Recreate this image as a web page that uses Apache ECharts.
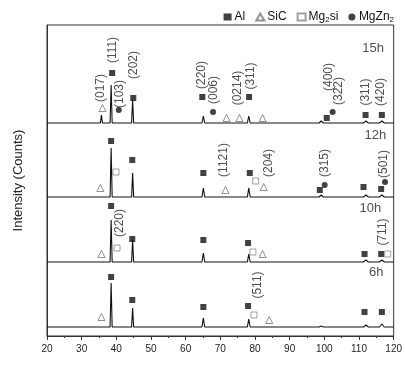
<!DOCTYPE html>
<html>
<head>
<meta charset="utf-8">
<script src="https://cdn.jsdelivr.net/npm/echarts@6/dist/echarts.min.js"></script>
<style>
html, body { margin: 0; padding: 0; background: #fff; }
#xrd { width: 405px; height: 365px; }
</style>
</head>
<body>
<div id="xrd"></div>
<script>
// spectra, stacked from the top: 15h, 12h, 10h, 6h
var hours = ['15h', '12h', '10h', '6h'];
var baseline = [213, 139, 74, 9];
var hourLabelPos = [[114.1, 288], [114.7, 201], [113.3, 128], [115.0, 64]];

// peaks: [2theta, height above baseline, half width]
var peaks15h = [[35.7, 8, 0.3], [38.5, 38, 0.3], [44.7, 23, 0.3], [65.1, 7, 0.4], [71.8, 1, 0.4], [78.2, 7, 0.4], [82.4, 2, 0.5], [99.1, 2, 0.6], [112.0, 2, 0.7], [116.6, 2, 0.7]];
var peaks12h = [[35.7, 2, 0.3], [38.5, 49, 0.3], [44.7, 24, 0.3], [65.1, 9, 0.4], [78.2, 9, 0.4], [82.4, 2, 0.5], [99.1, 2, 0.6], [112.0, 2, 0.7], [116.6, 2, 0.7]];
var peaks10h = [[35.7, 2, 0.3], [38.5, 42, 0.3], [44.7, 22, 0.3], [65.1, 9, 0.4], [78.2, 8, 0.4], [82.4, 2, 0.5], [112.0, 2, 0.7], [116.6, 2, 0.7]];
var peaks6h = [[35.7, 2, 0.3], [38.5, 44, 0.3], [44.7, 19, 0.3], [65.1, 9, 0.4], [78.2, 8, 0.4], [82.4, 2, 0.5], [99.1, 1, 0.6], [112.0, 2, 0.7], [116.6, 3, 0.7]];
var allPeaks = [peaks15h, peaks12h, peaks10h, peaks6h];

// phase markers [2theta, level]
var alMarks = [[38.8, 263], [44.9, 238], [64.8, 239], [78.3, 239], [100.7, 218], [111.9, 221], [116.6, 221],
  [38.5, 195], [44.6, 176], [65.1, 163], [78.5, 163], [98.7, 146], [111.3, 149], [116.4, 147],
  [38.5, 130], [44.6, 97], [65.1, 96], [78.0, 93], [111.6, 82], [116.4, 82],
  [38.5, 59], [44.6, 36], [65.1, 29], [78.0, 30], [111.6, 24], [116.6, 24]];
var sicMarks = [[36.0, 228], [71.8, 218], [75.5, 218], [82.2, 218],
  [35.4, 148], [71.5, 146], [82.5, 149],
  [35.7, 82], [82.2, 82],
  [35.7, 19], [84.1, 16]];
var mg2siMarks = [[39.9, 164], [80.2, 155], [40.2, 88], [79.4, 84], [118.3, 82], [79.7, 21]];
var mgzn2Marks = [[40.7, 226], [67.9, 224], [102.4, 224], [100.1, 151], [117.5, 154]];

// Miller indices [2theta, level, text]
var hklLabels = [[35.4, 248, '(017)'], [39.0, 286, '(111)'], [41.0, 242, '(103)'], [44.9, 271, '(202)'],
  [64.5, 261, '(220)'], [68.2, 246, '(006)'], [74.9, 248, '(0214)'], [78.8, 260, '(311)'],
  [101.2, 259, '(400)'], [104.0, 245, '(322)'], [111.9, 244, '(311)'], [116.4, 244, '(420)'],
  [71.0, 176, '(1121)'], [83.9, 173, '(204)'], [100.1, 173, '(315)'], [117.2, 172, '(501)'],
  [41.0, 113, '(220)'], [116.9, 104, '(711)'],
  [80.8, 51, '(511)']];

function profile(peaks, base) {
  var pts = [[20, base]];
  peaks.forEach(function (p) {
    pts.push([p[0] - p[2], base], [p[0], base + p[1]], [p[0] + p[2], base]);
  });
  pts.push([120, base]);
  return pts;
}

var chart = echarts.init(document.getElementById('xrd'));
var series = [];
hours.forEach(function (h, i) {
  series.push({
    name: h, type: 'line', data: profile(allPeaks[i], baseline[i]),
    showSymbol: false, silent: true,
    lineStyle: { color: '#111', width: 1.1 }
  });
});
series.push({
  name: 'Al', type: 'scatter', data: alMarks, symbol: 'rect', symbolSize: 6,
  itemStyle: { color: '#111' }
});
series.push({
  name: 'SiC', type: 'scatter', data: sicMarks, symbol: 'triangle', symbolSize: 7,
  itemStyle: { color: '#fff', borderColor: '#777', borderWidth: 1 }
});
series.push({
  name: 'Mg2si', type: 'scatter', data: mg2siMarks, symbol: 'rect', symbolSize: 6,
  itemStyle: { color: '#fff', borderColor: '#888', borderWidth: 1 }
});
series.push({
  name: 'MgZn2', type: 'scatter', data: mgzn2Marks, symbol: 'circle', symbolSize: 6,
  itemStyle: { color: '#111' }
});
series.push({
  name: 'hkl', type: 'scatter', data: hklLabels, symbolSize: 0, silent: true,
  label: {
    show: true, position: 'inside', rotate: 90, color: '#222', fontSize: 12,
    fontFamily: 'Liberation Sans, Arial, sans-serif',
    formatter: function (p) { return p.value[2]; }
  }
});
series.push({
  name: 'time', type: 'scatter', symbolSize: 0, silent: true,
  data: hourLabelPos.map(function (p, i) { return [p[0], p[1], hours[i]]; }),
  label: {
    show: true, position: 'inside', color: '#222', fontSize: 13,
    fontFamily: 'Liberation Sans, Arial, sans-serif',
    formatter: function (p) { return p.value[2]; }
  }
});

var legendText = { 'Al': 'Al', 'SiC': 'SiC', 'Mg2si': 'Mg{sub|2}si', 'MgZn2': 'MgZn{sub|2}' };

option = {
  animation: false,
  backgroundColor: '#fff',
  textStyle: { fontFamily: 'Liberation Sans, Arial, sans-serif' },
  legend: {
    data: ['Al', 'SiC', 'Mg2si', 'MgZn2'],
    top: 6, right: 6, itemGap: 10, itemWidth: 8, itemHeight: 7,
    formatter: function (n) { return legendText[n]; },
    textStyle: {
      fontSize: 12, color: '#111', padding: [0, 0, 0, -2],
      rich: { sub: { fontSize: 8, padding: [6, 0, 0, 0] } }
    }
  },
  grid: { left: 47, right: 2, top: 25, bottom: 29, show: true, borderColor: '#333', borderWidth: 1 },
  xAxis: {
    type: 'value', min: 20, max: 120, interval: 10,
    axisLine: { lineStyle: { color: '#333' } },
    axisTick: { inside: false, length: 4, lineStyle: { color: '#333' } },
    minorTick: { show: true, splitNumber: 2, length: 2, lineStyle: { color: '#333' } },
    axisLabel: { fontSize: 10, color: '#222', margin: 8 },
    splitLine: { show: false }
  },
  yAxis: {
    type: 'value', min: 0, max: 311,
    name: 'Intensity (Counts)', nameLocation: 'middle', nameGap: 22,
    nameTextStyle: { fontSize: 13, color: '#222' },
    axisLine: { show: true, lineStyle: { color: '#333' } },
    axisTick: { show: false }, axisLabel: { show: false },
    splitLine: { show: false }
  },
  series: series
};
chart.setOption(option);
</script>
</body>
</html>
